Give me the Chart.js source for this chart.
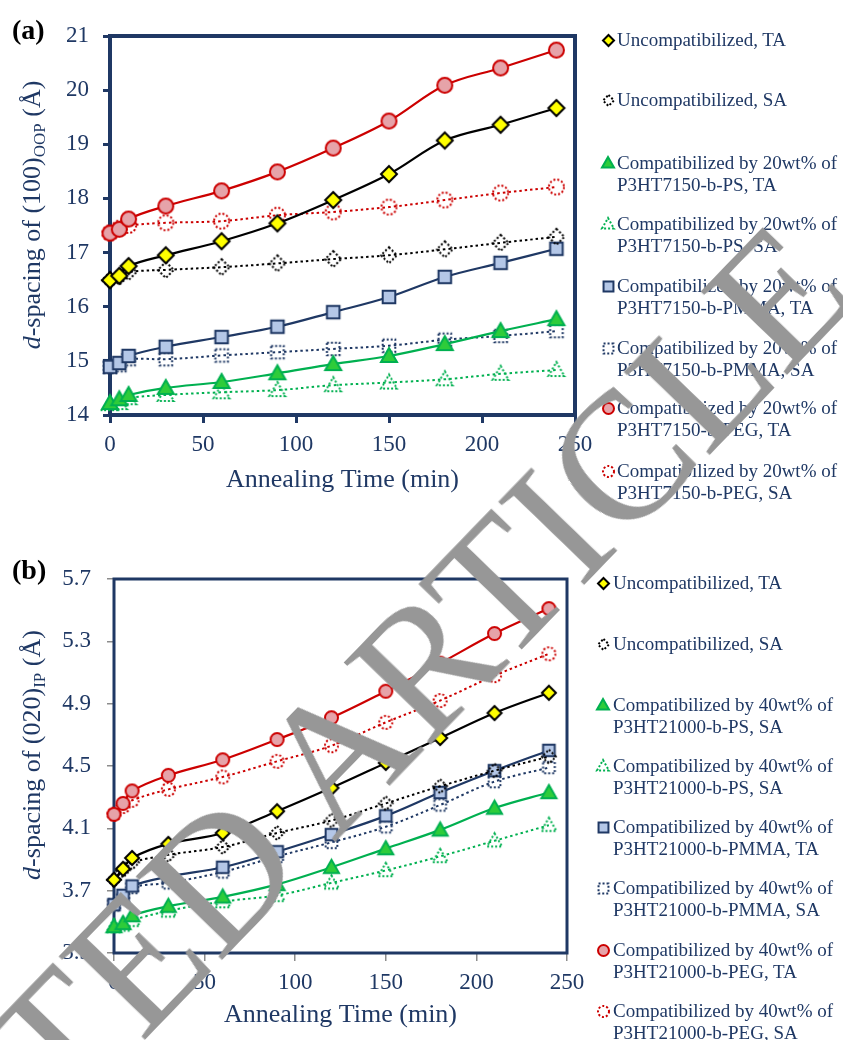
<!DOCTYPE html>
<html>
<head>
<meta charset="utf-8">
<script src="https://cdn.jsdelivr.net/npm/chart.js@4.4.1/dist/chart.umd.min.js"></script>
<style>
  body { margin: 0; background: #fff; }
  #page { position: relative; width: 843px; height: 1040px; overflow: hidden;
          font-family: "Liberation Serif", "Times New Roman", serif; color: #1F3864; }
  .panel { position: absolute; left: 0; width: 843px; height: 520px; }
  .tag { position: absolute; left: 12px; font-weight: bold; font-size: 28px; line-height: 28px; color: #000; }
  .ytitle { position: absolute; left: 32px; font-size: 26px; line-height: 26px; white-space: nowrap;
            transform: translate(-50%, -50%) rotate(-90deg); }
  .ytitle sub { font-size: 17px; line-height: 0; vertical-align: -5px; }
  .leg { position: absolute; font-size: 19px; line-height: 22px; white-space: pre; }
  .mk { position: absolute; }
  #wm { position: absolute; left: 169px; top: 927px; font-size: 182px; line-height: 1; color: #979797;
        white-space: nowrap; transform: translate(-50%, -50%) rotate(-46deg); pointer-events: none; }
</style>
</head>
<body>
<div id="page">
  <div class="panel" id="pa" style="top:0">
    <canvas id="chartA" width="843" height="520"></canvas>
    <div class="tag" style="top:16px">(a)</div>
    <div class="ytitle" style="top:215px"><i>d</i>-spacing of (100)<sub>OOP</sub> (Å)</div>
  </div>
  <div class="panel" id="pb" style="top:520px">
    <canvas id="chartB" width="843" height="520"></canvas>
    <div class="tag" style="top:36px">(b)</div>
    <div class="ytitle" style="top:235px"><i>d</i>-spacing of (020)<sub>IP</sub> (Å)</div>
  </div>
  <div id="wm">RETRACTED ARTICLE</div>
</div>
<script>
// Annealing times (min), shared by both panels
var times = [0, 5, 10, 30, 60, 90, 120, 150, 180, 210, 240];
var xTicks = [0, 50, 100, 150, 200, 250];

// (a) d-spacing of (100) OOP, Angstrom
var yTicksA = [14, 15, 16, 17, 18, 19, 20, 21];
var uncTA_a  = [16.49, 16.57, 16.75, 16.95, 17.21, 17.54, 17.97, 18.45, 19.07, 19.36, 19.67];
var uncSA_a  = [16.49, 16.55, 16.64, 16.68, 16.73, 16.80, 16.88, 16.95, 17.06, 17.18, 17.29];
var psTA_a   = [14.22, 14.29, 14.37, 14.50, 14.61, 14.77, 14.94, 15.09, 15.31, 15.55, 15.77];
var psSA_a   = [14.20, 14.22, 14.31, 14.37, 14.42, 14.46, 14.55, 14.60, 14.66, 14.76, 14.83];
var pmmaTA_a = [14.89, 14.96, 15.09, 15.26, 15.44, 15.63, 15.90, 16.18, 16.55, 16.81, 17.07];
var pmmaSA_a = [14.89, 14.92, 15.03, 15.03, 15.10, 15.16, 15.22, 15.28, 15.39, 15.46, 15.55];
var pegTA_a  = [17.36, 17.43, 17.62, 17.86, 18.14, 18.49, 18.93, 19.43, 20.09, 20.41, 20.74];
var pegSA_a  = [17.36, 17.45, 17.50, 17.55, 17.58, 17.69, 17.75, 17.84, 17.97, 18.10, 18.21];
var labelsA = [
    'Uncompatibilized, TA',
    'Uncompatibilized, SA',
    'Compatibilized by 20wt% of\nP3HT7150-b-PS, TA',
    'Compatibilized by 20wt% of\nP3HT7150-b-PS, SA',
    'Compatibilized by 20wt% of\nP3HT7150-b-PMMA, TA',
    'Compatibilized by 20wt% of\nP3HT7150-b-PMMA, SA',
    'Compatibilized by 20wt% of\nP3HT7150-b-PEG, TA',
    'Compatibilized by 20wt% of\nP3HT7150-b-PEG, SA'
];

// (b) d-spacing of (020) IP, Angstrom
var yTicksB = [3.3, 3.7, 4.1, 4.5, 4.9, 5.3, 5.7];
var uncTA_b  = [3.77, 3.84, 3.91, 4.00, 4.07, 4.21, 4.36, 4.52, 4.68, 4.84, 4.97];
var uncSA_b  = [3.77, 3.83, 3.88, 3.93, 3.98, 4.07, 4.15, 4.26, 4.37, 4.47, 4.56];
var psTA_b   = [3.47, 3.49, 3.54, 3.60, 3.66, 3.74, 3.85, 3.97, 4.09, 4.23, 4.33];
var psSA_b   = [3.47, 3.48, 3.51, 3.57, 3.63, 3.67, 3.75, 3.83, 3.92, 4.02, 4.12];
var pmmaTA_b = [3.61, 3.67, 3.73, 3.79, 3.85, 3.95, 4.06, 4.18, 4.33, 4.47, 4.60];
var pmmaSA_b = [3.61, 3.65, 3.72, 3.75, 3.82, 3.92, 4.01, 4.11, 4.25, 4.40, 4.49];
var pegTA_b  = [4.19, 4.26, 4.34, 4.44, 4.54, 4.67, 4.81, 4.98, 5.16, 5.35, 5.51];
var pegSA_b  = [4.19, 4.24, 4.28, 4.35, 4.43, 4.53, 4.63, 4.78, 4.92, 5.08, 5.22];
var labelsB = [
    'Uncompatibilized, TA',
    'Uncompatibilized, SA',
    'Compatibilized by 40wt% of\nP3HT21000-b-PS, SA',
    'Compatibilized by 40wt% of\nP3HT21000-b-PS, SA',
    'Compatibilized by 40wt% of\nP3HT21000-b-PMMA, TA',
    'Compatibilized by 40wt% of\nP3HT21000-b-PMMA, SA',
    'Compatibilized by 40wt% of\nP3HT21000-b-PEG, TA',
    'Compatibilized by 40wt% of\nP3HT21000-b-PEG, SA'
];

var navy = '#1F3864';
var serif = '"Liberation Serif", "Times New Roman", serif';

// look of each series, same order in both panels
var looks = [
    { shape: 'diamond',  fill: '#FFFF00', color: '#000000', dotted: false },
    { shape: 'diamond',  fill: null,      color: '#000000', dotted: true },
    { shape: 'triangle', fill: '#2ECC3A', color: '#00B050', dotted: false },
    { shape: 'triangle', fill: null,      color: '#00B050', dotted: true },
    { shape: 'square',   fill: '#B4C7E7', color: '#1F3864', dotted: false },
    { shape: 'square',   fill: null,      color: '#1F3864', dotted: true },
    { shape: 'circle',   fill: '#E6A3A9', color: '#CC0000', dotted: false },
    { shape: 'circle',   fill: null,      color: '#CC0000', dotted: true }
];

// draws a marker into a small canvas, used as a Chart.js pointStyle
function makeMarker(look, r) {
    var size = Math.ceil(2 * r + 6);
    var c = document.createElement('canvas');
    c.width = size; c.height = size;
    var g = c.getContext('2d');
    var m = size / 2;
    g.beginPath();
    if (look.shape === 'circle') {
        g.arc(m, m, r, 0, Math.PI * 2);
    } else if (look.shape === 'square') {
        g.rect(m - r * 0.9, m - r * 0.9, r * 1.8, r * 1.8);
    } else if (look.shape === 'diamond') {
        g.moveTo(m, m - r); g.lineTo(m + r, m); g.lineTo(m, m + r); g.lineTo(m - r, m); g.closePath();
    } else {
        g.moveTo(m, m - r); g.lineTo(m + r, m + r * 0.75); g.lineTo(m - r, m + r * 0.75); g.closePath();
    }
    if (look.fill) { g.fillStyle = look.fill; g.fill(); }
    g.lineWidth = 2;
    if (look.dotted) g.setLineDash([2, 2]);
    g.strokeStyle = look.color;
    g.stroke();
    return c;
}

// plot frame drawn under the data, like the original
var framePlugin = {
    id: 'frame',
    beforeDatasetsDraw: function (chart, args, opts) {
        var a = chart.chartArea, ctx = chart.ctx;
        ctx.save();
        ctx.strokeStyle = opts.color;
        ctx.lineWidth = opts.width;
        ctx.strokeRect(a.left, a.top, a.right - a.left, a.bottom - a.top);
        ctx.restore();
    }
};

function makePanel(canvasId, panelId, series, labels, yTicks, opt) {
    var datasets = series.map(function (vals, i) {
        var look = looks[i];
        return {
            label: labels[i],
            data: times.map(function (t, j) { return { x: t, y: vals[j] }; }),
            borderColor: look.color,
            borderWidth: look.dotted ? 2 : 2.2,
            borderDash: look.dotted ? [2.5, 3] : [],
            tension: 0.35,
            fill: false,
            clip: false,
            pointStyle: makeMarker(look, opt.markR[look.shape]),
            pointRadius: 6,
            pointHoverRadius: 6
        };
    });

    new Chart(document.getElementById(canvasId), {
        type: 'line',
        data: { datasets: datasets },
        options: {
            responsive: false,
            animation: false,
            devicePixelRatio: 1,
            layout: { padding: opt.padding },
            plugins: {
                legend: { display: false },
                tooltip: { enabled: false },
                frame: { color: navy, width: opt.frameWidth }
            },
            scales: {
                x: {
                    type: 'linear',
                    min: xTicks[0],
                    max: xTicks[xTicks.length - 1],
                    ticks: { stepSize: xTicks[1] - xTicks[0], color: navy, font: { family: serif, size: 23 }, padding: 8, maxRotation: 0 },
                    grid: { drawOnChartArea: false, tickLength: 8, color: opt.tickColor, lineWidth: opt.tickWidth },
                    border: { display: false },
                    title: { display: true, text: 'Annealing Time (min)', color: navy, font: { family: serif, size: 26 }, padding: 0 },
                    afterFit: function (s) { s.height = opt.xHeight; }
                },
                y: {
                    min: yTicks[0],
                    max: yTicks[yTicks.length - 1],
                    ticks: {
                        stepSize: yTicks[1] - yTicks[0],
                        color: navy,
                        font: { family: serif, size: 23 },
                        padding: opt.yPad,
                        callback: function (v) { return v.toFixed(opt.decimals); }
                    },
                    grid: { drawOnChartArea: false, tickLength: 7, color: opt.tickColor, lineWidth: opt.tickWidth },
                    border: { display: false },
                    afterFit: function (s) { s.width = 70; }
                }
            }
        },
        plugins: [framePlugin]
    });

    // legend on the right
    var panel = document.getElementById(panelId);
    labels.forEach(function (text, i) {
        var cy = opt.legendY[i];
        var item = document.createElement('div');
        item.className = 'leg';
        item.style.left = opt.legendTextX + 'px';
        item.style.top = (cy - 11) + 'px';
        item.textContent = text;
        panel.appendChild(item);
        var mk = makeMarker(looks[i], opt.legR[looks[i].shape]);
        mk.className = 'mk';
        mk.style.left = (opt.legendMarkX - mk.width / 2) + 'px';
        mk.style.top = (cy - mk.height / 2) + 'px';
        panel.appendChild(mk);
    });
}

makePanel('chartA', 'pa',
    [uncTA_a, uncSA_a, psTA_a, psSA_a, pmmaTA_a, pmmaSA_a, pegTA_a, pegSA_a],
    labelsA, yTicksA, {
        padding: { left: 40, top: 36, right: 268, bottom: 24 },
        xHeight: 81, yPad: 14, decimals: 0, frameWidth: 4,
        tickColor: navy, tickWidth: 3,
        markR: { circle: 7.5, square: 7, diamond: 8, triangle: 8 },
        legR: { circle: 5.5, square: 5.5, diamond: 5.5, triangle: 6 },
        legendY: [40, 100, 163, 224, 286, 348, 408, 471],
        legendTextX: 617, legendMarkX: 608
    });

makePanel('chartB', 'pb',
    [uncTA_b, uncSA_b, psTA_b, psSA_b, pmmaTA_b, pmmaSA_b, pegTA_b, pegSA_b],
    labelsB, yTicksB, {
        padding: { left: 44, top: 59, right: 276, bottom: 9 },
        xHeight: 78, yPad: 16, decimals: 1, frameWidth: 3,
        tickColor: '#8C8C8C', tickWidth: 1.5,
        markR: { circle: 6.5, square: 6.5, diamond: 7, triangle: 7.5 },
        legR: { circle: 5.5, square: 5.5, diamond: 5.5, triangle: 6 },
        legendY: [63, 124, 185, 246, 307, 368, 430, 491],
        legendTextX: 613, legendMarkX: 603
    });
</script>
</body>
</html>
